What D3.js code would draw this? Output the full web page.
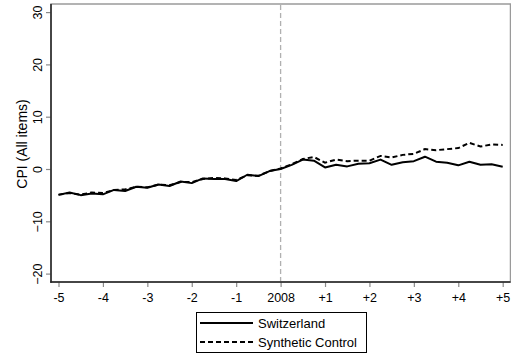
<!DOCTYPE html>
<html>
<head>
<meta charset="utf-8">
<script src="https://cdn.jsdelivr.net/npm/d3@7"></script>
<style>
  body { margin: 0; background: #fff; }
  svg { display: block; font-family: "Liberation Sans", Arial, sans-serif; }
</style>
</head>
<body>
<div id="graphContainer"></div>
<script>
// quarters relative to 2008 (years), one point per quarter
const quarters = d3.range(41).map(i => -5 + i / 4);

const switzerland = [
  -4.95, -4.5, -5.0, -4.7, -4.85, -4.0, -4.2, -3.4, -3.6, -2.95,
  -3.25, -2.4, -2.7, -1.8, -1.9, -1.9, -2.3, -1.1, -1.35, -0.4,
  0.0, 0.8, 1.8, 1.6, 0.3, 0.8, 0.5, 1.0, 1.1, 1.8,
  0.8, 1.3, 1.5, 2.35, 1.4, 1.2, 0.7, 1.4, 0.8, 0.9,
  0.45
];

const synthetic = [
  -4.9, -4.6, -4.9, -4.5, -4.6, -4.0, -3.9, -3.4, -3.5, -3.0,
  -3.1, -2.5, -2.5, -1.9, -1.7, -1.8, -2.1, -1.2, -1.3, -0.4,
  0.1, 0.9, 1.9, 2.3, 1.2, 1.8, 1.5, 1.6, 1.6, 2.5,
  2.2, 2.7, 2.9, 3.8, 3.6, 3.8, 4.0, 5.0, 4.3, 4.7,
  4.6
];

const xTicks = [-5, -4, -3, -2, -1, 0, 1, 2, 3, 4, 5];
const xTickLabels = ["-5", "-4", "-3", "-2", "-1", "2008", "+1", "+2", "+3", "+4", "+5"];
const yTicks = [-20, -10, 0, 10, 20, 30];
const legendLabels = ["Switzerland", "Synthetic Control"];

const W = 511, H = 356;
const frame = {left: 51, right: 510.5, top: 4, bottom: 282};

const svg = d3.select("#graphContainer").append("svg")
    .attr("width", W)
    .attr("height", H);

const x = d3.scaleLinear().domain([-5, 5]).range([58.5, 502.7]);
const y = d3.scaleLinear().domain([-20, 30]).range([273.6, 12.1]);

// frame: grey top/right, dark left/bottom
svg.append("rect")
    .attr("x", frame.left)
    .attr("y", frame.top)
    .attr("width", frame.right - frame.left)
    .attr("height", frame.bottom - frame.top)
    .attr("fill", "none")
    .attr("stroke", "#9a9a9a")
    .attr("stroke-width", 1.5);

// y axis
const yAxis = svg.append("g")
    .attr("transform", "translate(" + frame.left + ",0)")
    .call(d3.axisLeft(y).tickValues(yTicks).tickSize(5).tickPadding(7).tickSizeOuter(0));
yAxis.select(".domain").remove();
yAxis.selectAll(".tick line").attr("stroke", "#8a8a8a").attr("stroke-width", 1.2);
yAxis.selectAll(".tick text")
    .attr("x", null).attr("dy", null)
    .attr("transform", "translate(-13,0) rotate(-90)")
    .attr("text-anchor", "middle")
    .attr("dy", "0.35em")
    .attr("font-size", 12.5)
    .attr("font-family", "Liberation Sans, Arial, sans-serif")
    .attr("fill", "#000");

// x axis
const xAxis = svg.append("g")
    .attr("transform", "translate(0," + frame.bottom + ")")
    .call(d3.axisBottom(x).tickValues(xTicks).tickFormat((d, i) => xTickLabels[i])
        .tickSize(5).tickPadding(6).tickSizeOuter(0));
xAxis.select(".domain").remove();
xAxis.selectAll(".tick line").attr("stroke", "#8a8a8a").attr("stroke-width", 1.2);
xAxis.selectAll(".tick text")
    .attr("font-size", 12.5)
    .attr("font-family", "Liberation Sans, Arial, sans-serif")
    .attr("fill", "#000");

// dark axis lines
svg.append("line")
    .attr("x1", frame.left).attr("x2", frame.left)
    .attr("y1", frame.top).attr("y2", frame.bottom + 0.75)
    .attr("stroke", "#222").attr("stroke-width", 1.5);
svg.append("line")
    .attr("x1", frame.left - 0.75).attr("x2", frame.right)
    .attr("y1", frame.bottom).attr("y2", frame.bottom)
    .attr("stroke", "#222").attr("stroke-width", 1.5);

// y axis title
svg.append("text")
    .attr("transform", "translate(27,144) rotate(-90)")
    .attr("text-anchor", "middle")
    .attr("font-size", 14)
    .text("CPI (All items)");

// treatment line at 2008
svg.append("line")
    .attr("x1", x(0)).attr("x2", x(0))
    .attr("y1", frame.top + 1).attr("y2", frame.bottom - 1)
    .attr("stroke", "#b0b0b0")
    .attr("stroke-width", 1.3)
    .attr("stroke-dasharray", "5,3");

const line = d3.line()
    .x((d, i) => x(quarters[i]))
    .y(d => y(d));

svg.append("path")
    .datum(synthetic)
    .attr("d", line)
    .attr("fill", "none")
    .attr("stroke", "#000")
    .attr("stroke-width", 2)
    .attr("stroke-dasharray", "5,3");

svg.append("path")
    .datum(switzerland)
    .attr("d", line)
    .attr("fill", "none")
    .attr("stroke", "#000")
    .attr("stroke-width", 2)
    .attr("stroke-linejoin", "round");

// legend
const legend = svg.append("g");
legend.append("rect")
    .attr("x", 196.5).attr("y", 312.5)
    .attr("width", 170).attr("height", 40)
    .attr("fill", "#fff")
    .attr("stroke", "#000")
    .attr("stroke-width", 1);

legendLabels.forEach(function(label, i) {
    const ly = 323 + i * 19;
    legend.append("line")
        .attr("x1", 200).attr("x2", 253)
        .attr("y1", ly).attr("y2", ly)
        .attr("stroke", "#000")
        .attr("stroke-width", 1.8)
        .attr("stroke-dasharray", i === 0 ? null : "5,3");
    legend.append("text")
        .attr("x", 258)
        .attr("y", ly)
        .attr("dy", "0.36em")
        .attr("font-size", 13)
        .text(label);
});
</script>
</body>
</html>
